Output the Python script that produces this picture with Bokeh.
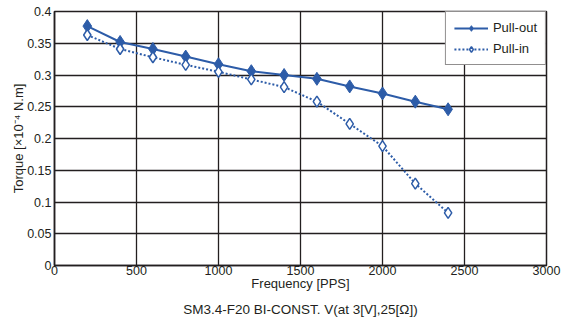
from bokeh.plotting import figure
from bokeh.models import FixedTicker, CustomJSTickFormatter, Title, Legend, LegendItem, Range1d
from bokeh.embed import file_html
from bokeh.resources import INLINE

freq = [200, 400, 600, 800, 1000, 1200, 1400, 1600, 1800, 2000, 2200, 2400]
pull_out = [0.377, 0.352, 0.341, 0.329, 0.317, 0.306, 0.300, 0.294, 0.282, 0.271, 0.258, 0.246]
pull_in = [0.363, 0.341, 0.328, 0.316, 0.305, 0.293, 0.281, 0.258, 0.223, 0.188, 0.129, 0.083]
x_ticks = [0, 500, 1000, 1500, 2000, 2500, 3000]
y_ticks = [0, 0.05, 0.1, 0.15, 0.2, 0.25, 0.3, 0.35, 0.4]

FONT = "Liberation Sans"
BLUE = "#2d5ca8"
INK = "#231f20"

p = figure(width=567, height=323, output_backend="svg", toolbar_location=None,
           x_range=Range1d(0, 3000), y_range=Range1d(0, 0.4),
           min_border_left=54, min_border_right=21, min_border_top=11, min_border_bottom=10)
p.outline_line_color = INK
p.outline_line_width = 1.5

for ax in (p.xaxis[0], p.yaxis[0]):
    ax.major_tick_out = 0
    ax.major_tick_in = 0
    ax.minor_tick_out = 0
    ax.minor_tick_in = 0
    ax.axis_line_color = INK
    ax.axis_line_width = 1.5
    ax.major_label_text_font = FONT
    ax.major_label_text_font_size = "12.5px"
    ax.major_label_text_color = INK
    ax.axis_label_text_font = FONT
    ax.axis_label_text_font_size = "13px"
    ax.axis_label_text_font_style = "normal"
    ax.axis_label_text_color = INK

p.xaxis.ticker = FixedTicker(ticks=x_ticks)
p.yaxis.ticker = FixedTicker(ticks=y_ticks)
p.yaxis.formatter = CustomJSTickFormatter(code="return String(Math.round(tick*100)/100);")
p.xaxis.major_label_standoff = 0
p.yaxis.major_label_standoff = 3
p.xaxis.axis_label = "Frequency [PPS]"
p.xaxis.axis_label_standoff = -2
p.yaxis.axis_label = "Torque [×10⁻⁴ N.m]"
p.yaxis.axis_label_standoff = -2

p.xgrid.grid_line_color = INK
p.ygrid.grid_line_color = INK
p.xgrid.grid_line_width = 1.3
p.ygrid.grid_line_width = 1.3
p.grid.grid_line_alpha = 1

l1 = p.line(freq, pull_out, line_color=BLUE, line_width=2)
m1 = p.scatter(freq, pull_out, marker="diamond", size=13, fill_color=BLUE, line_color=BLUE)
l2 = p.line(freq, pull_in, line_color=BLUE, line_width=2, line_dash="2 2")
m2 = p.scatter(freq, pull_in, marker="diamond", size=11, fill_color="white", line_color=BLUE, line_width=1.5)

legend = Legend(items=[LegendItem(label="Pull-out", renderers=[l1, m1]),
                       LegendItem(label="Pull-in", renderers=[l2, m2])],
                location="top_right")
legend.margin = 0
legend.border_line_color = INK
legend.border_line_width = 1.5
legend.label_text_font = FONT
legend.label_text_font_size = "13px"
legend.label_text_color = INK
legend.glyph_width = 34
legend.glyph_height = 14
legend.spacing = 6
legend.padding = 8
legend.label_standoff = 5
legend.background_fill_alpha = 1
p.add_layout(legend, "center")

t = Title(text="SM3.4-F20 BI-CONST. V(at 3[V],25[Ω])", align="center",
          text_font=FONT, text_font_size="13.5px", text_font_style="normal", text_color=INK,
          standoff=13)
p.add_layout(t, "below")

open("out.html", "w").write(file_html(p, INLINE))
